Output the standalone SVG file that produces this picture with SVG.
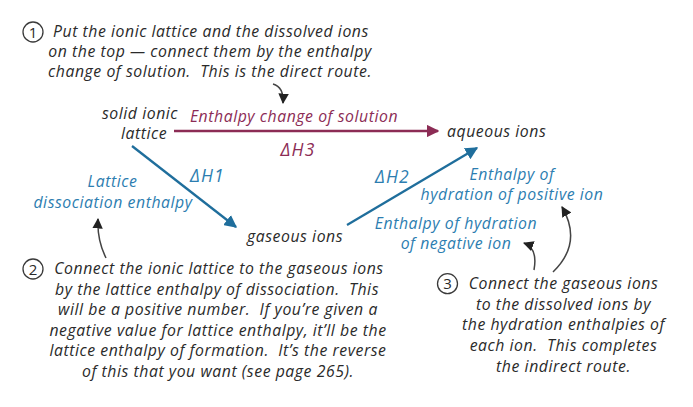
<svg xmlns="http://www.w3.org/2000/svg" width="693" height="407" viewBox="0 0 693 407">
<defs>
<style>
text{font-family:"Open Sans",Lato,"DejaVu Sans",sans-serif;font-style:italic;font-size:15.8px;letter-spacing:0.55px;white-space:pre;}
.dk{fill:#2a2a2a;}
.bl{fill:#2c7db0;}
.mr{fill:#8c2c55;}
.c{text-anchor:middle;}
.dh{font-size:17.5px;letter-spacing:1.2px;}
.num{font-style:normal;font-size:15px;letter-spacing:0;fill:#2a2a2a;text-anchor:middle;}
.circ{fill:none;stroke:#3a3a3a;stroke-width:1.3;}
.note{fill:none;stroke:#444;stroke-width:1.5;}
</style>
<marker id="ahB" viewBox="0 0 10 10" refX="9" refY="5" markerWidth="5.5" markerHeight="5.5" orient="auto" markerUnits="strokeWidth"><path d="M0,0 L10,5 L0,10 z" fill="#1f6e9c"/></marker>
<marker id="ahM" viewBox="0 0 10 10" refX="9" refY="5" markerWidth="5.5" markerHeight="5.5" orient="auto" markerUnits="strokeWidth"><path d="M0,0 L10,5 L0,10 z" fill="#8c2c55"/></marker>
<marker id="ahK" viewBox="0 0 10 10" refX="9" refY="5" markerWidth="7" markerHeight="7" orient="auto" markerUnits="strokeWidth"><path d="M0,0 L10,5 L0,10 z" fill="#222"/></marker>
</defs>
<rect width="693" height="407" fill="#fff"/>

<g id="connectors">
<line x1="174" y1="131" x2="438" y2="131" stroke="#8c2c55" stroke-width="2.3" marker-end="url(#ahM)"/>
<line x1="132" y1="146" x2="236" y2="227" stroke="#1f6e9c" stroke-width="2.3" marker-end="url(#ahB)"/>
<line x1="347" y1="225" x2="477" y2="148" stroke="#1f6e9c" stroke-width="2.3" marker-end="url(#ahB)"/>
<path class="note" d="M273,84 Q284,87 283,103" marker-end="url(#ahK)"/>
<path class="note" d="M106,258 Q97,240 98,219" marker-end="url(#ahK)"/>
<path class="note" d="M534,270 Q538,248 524,243" marker-end="url(#ahK)"/>
<path class="note" d="M553,272 Q583,243 562,207" marker-end="url(#ahK)"/>
</g>

<g id="note1">
<circle class="circ" cx="33" cy="32" r="10"/>
<text class="num" x="33" y="37.5">1</text>
<text class="dk" x="53" y="37">Put the ionic lattice and the dissolved ions</text>
<text class="dk c" x="210" y="57">on the top — connect them by the enthalpy</text>
<text class="dk c" x="210" y="77">change of solution.  This is the direct route.</text>
</g>

<g id="solid">
<text class="dk c" x="140" y="118.5">solid ionic</text>
<text class="dk c" x="144" y="138.5">lattice</text>
</g>

<g id="aqueous">
<text class="dk" x="447" y="137">aqueous ions</text>
</g>

<g id="gaseous">
<text class="dk" x="247" y="242">gaseous ions</text>
</g>

<g id="labels">
<text class="mr c" x="294" y="122">Enthalpy change of solution</text>
<text class="mr c dh" x="298" y="156">ΔH3</text>
<text class="bl dh" x="190" y="182">ΔH1</text>
<text class="bl dh" x="375" y="183">ΔH2</text>
<text class="bl c" x="112.5" y="187">Lattice</text>
<text class="bl c" x="113" y="207.5">dissociation enthalpy</text>
<text class="bl c" x="512" y="179.5">Enthalpy of</text>
<text class="bl c" x="512" y="199.5">hydration of positive ion</text>
<text class="bl c" x="456" y="228.8">Enthalpy of hydration</text>
<text class="bl c" x="456" y="248.8">of negative ion</text>
</g>

<g id="note2">
<circle class="circ" cx="33" cy="269" r="10"/>
<text class="num" x="33" y="274.5">2</text>
<text class="dk c" x="219" y="274">Connect the ionic lattice to the gaseous ions</text>
<text class="dk c" x="217" y="294.6">by the lattice enthalpy of dissociation.  This</text>
<text class="dk c" x="218" y="315.2">will be a positive number.  If you’re given a</text>
<text class="dk c" x="218" y="335.8">negative value for lattice enthalpy, it’ll be the</text>
<text class="dk c" x="218" y="356.4">lattice enthalpy of formation.  It’s the reverse</text>
<text class="dk c" x="218" y="377">of this that you want (see page 265).</text>
</g>

<g id="note3">
<circle class="circ" cx="447.5" cy="283.7" r="10"/>
<text class="num" x="447.5" y="289.2">3</text>
<text class="dk c" x="563.5" y="289">Connect the gaseous ions</text>
<text class="dk c" x="563.5" y="309.7">to the dissolved ions by</text>
<text class="dk c" x="563.5" y="330.4">the hydration enthalpies of</text>
<text class="dk c" x="563.5" y="351">each ion.  This completes</text>
<text class="dk c" x="563.5" y="371.7">the indirect route.</text>
</g>
</svg>
